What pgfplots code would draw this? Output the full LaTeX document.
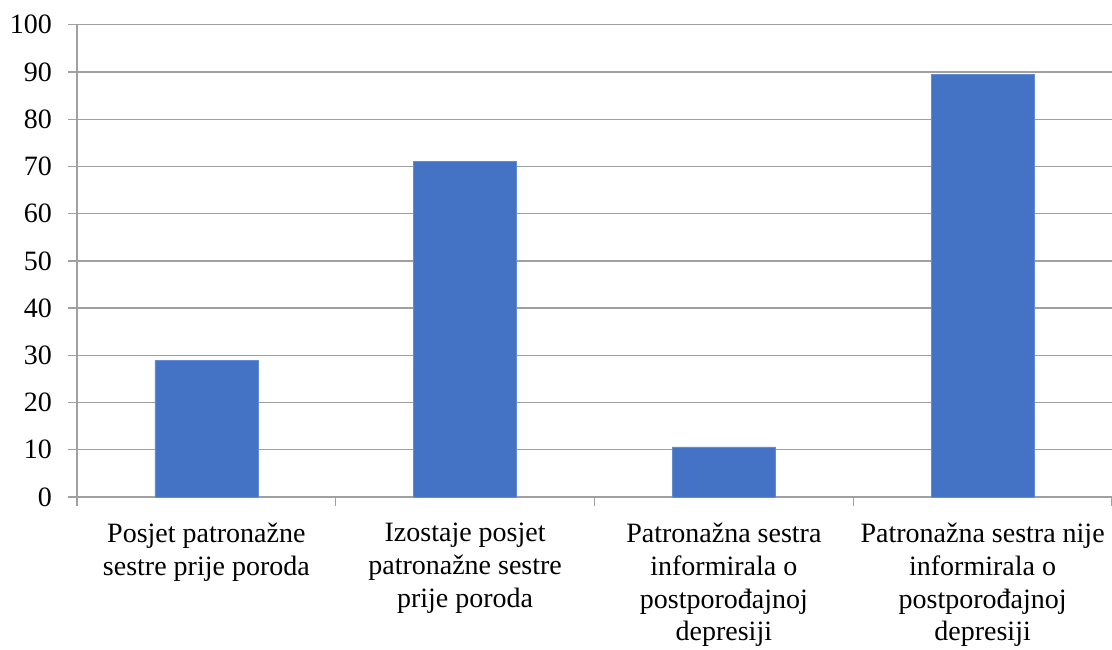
\documentclass[border=0pt]{standalone}
\usepackage{fontspec}
\setmainfont{Liberation Serif}
\usepackage{pgfplots}
\pgfplotsset{compat=1.18}
\definecolor{barblue}{RGB}{68,114,196}
\definecolor{baredge}{RGB}{100,140,210}
\definecolor{gridgray}{RGB}{160,160,160}
\begin{document}
\begin{tikzpicture}[x=1pt,y=1pt]
\useasboundingbox (0,0) rectangle (1112,649);
\begin{axis}[
  at={(77pt,152pt)}, anchor=south west,
  scale only axis,
  width=1035pt, height=472.3pt,
  xmin=-0.5, xmax=3.5,
  ymin=0, ymax=100,
  ytick={0,10,...,100},
  xtick={-0.5,0.5,1.5,2.5,3.5},
  xticklabels={{Posjet patronažne\\sestre prije poroda},{Izostaje posjet\\patronažne sestre\\prije poroda},{Patronažna sestra\\informirala o\\postporođajnoj\\depresiji},{Patronažna sestra nije\\informirala o\\postporođajnoj\\depresiji}},
  x tick label as interval,
  axis lines*=left,
  axis line style={gridgray, line width=1.3pt},
  ymajorgrids,
  major grid style={gridgray, line width=1.3pt},
  tick style={gridgray, line width=1.3pt},
  tick align=outside,
  major tick length=9pt,
  /pgf/number format/assume math mode=true,
  ticklabel style={font=\fontsize{28}{32.7}\selectfont, text=black},
  yticklabel style={anchor=east, inner sep=0pt, xshift=-16pt},
  xticklabel style={anchor=north, align=center, inner sep=0pt, yshift=-17pt},
  ybar, bar width=103pt,
  clip=false,
]
\addplot[fill=barblue, draw=baredge, line width=0.6pt] coordinates {(0,28.9) (1,71.1) (2,10.6) (3,89.4)};
\end{axis}
\end{tikzpicture}
\end{document}
